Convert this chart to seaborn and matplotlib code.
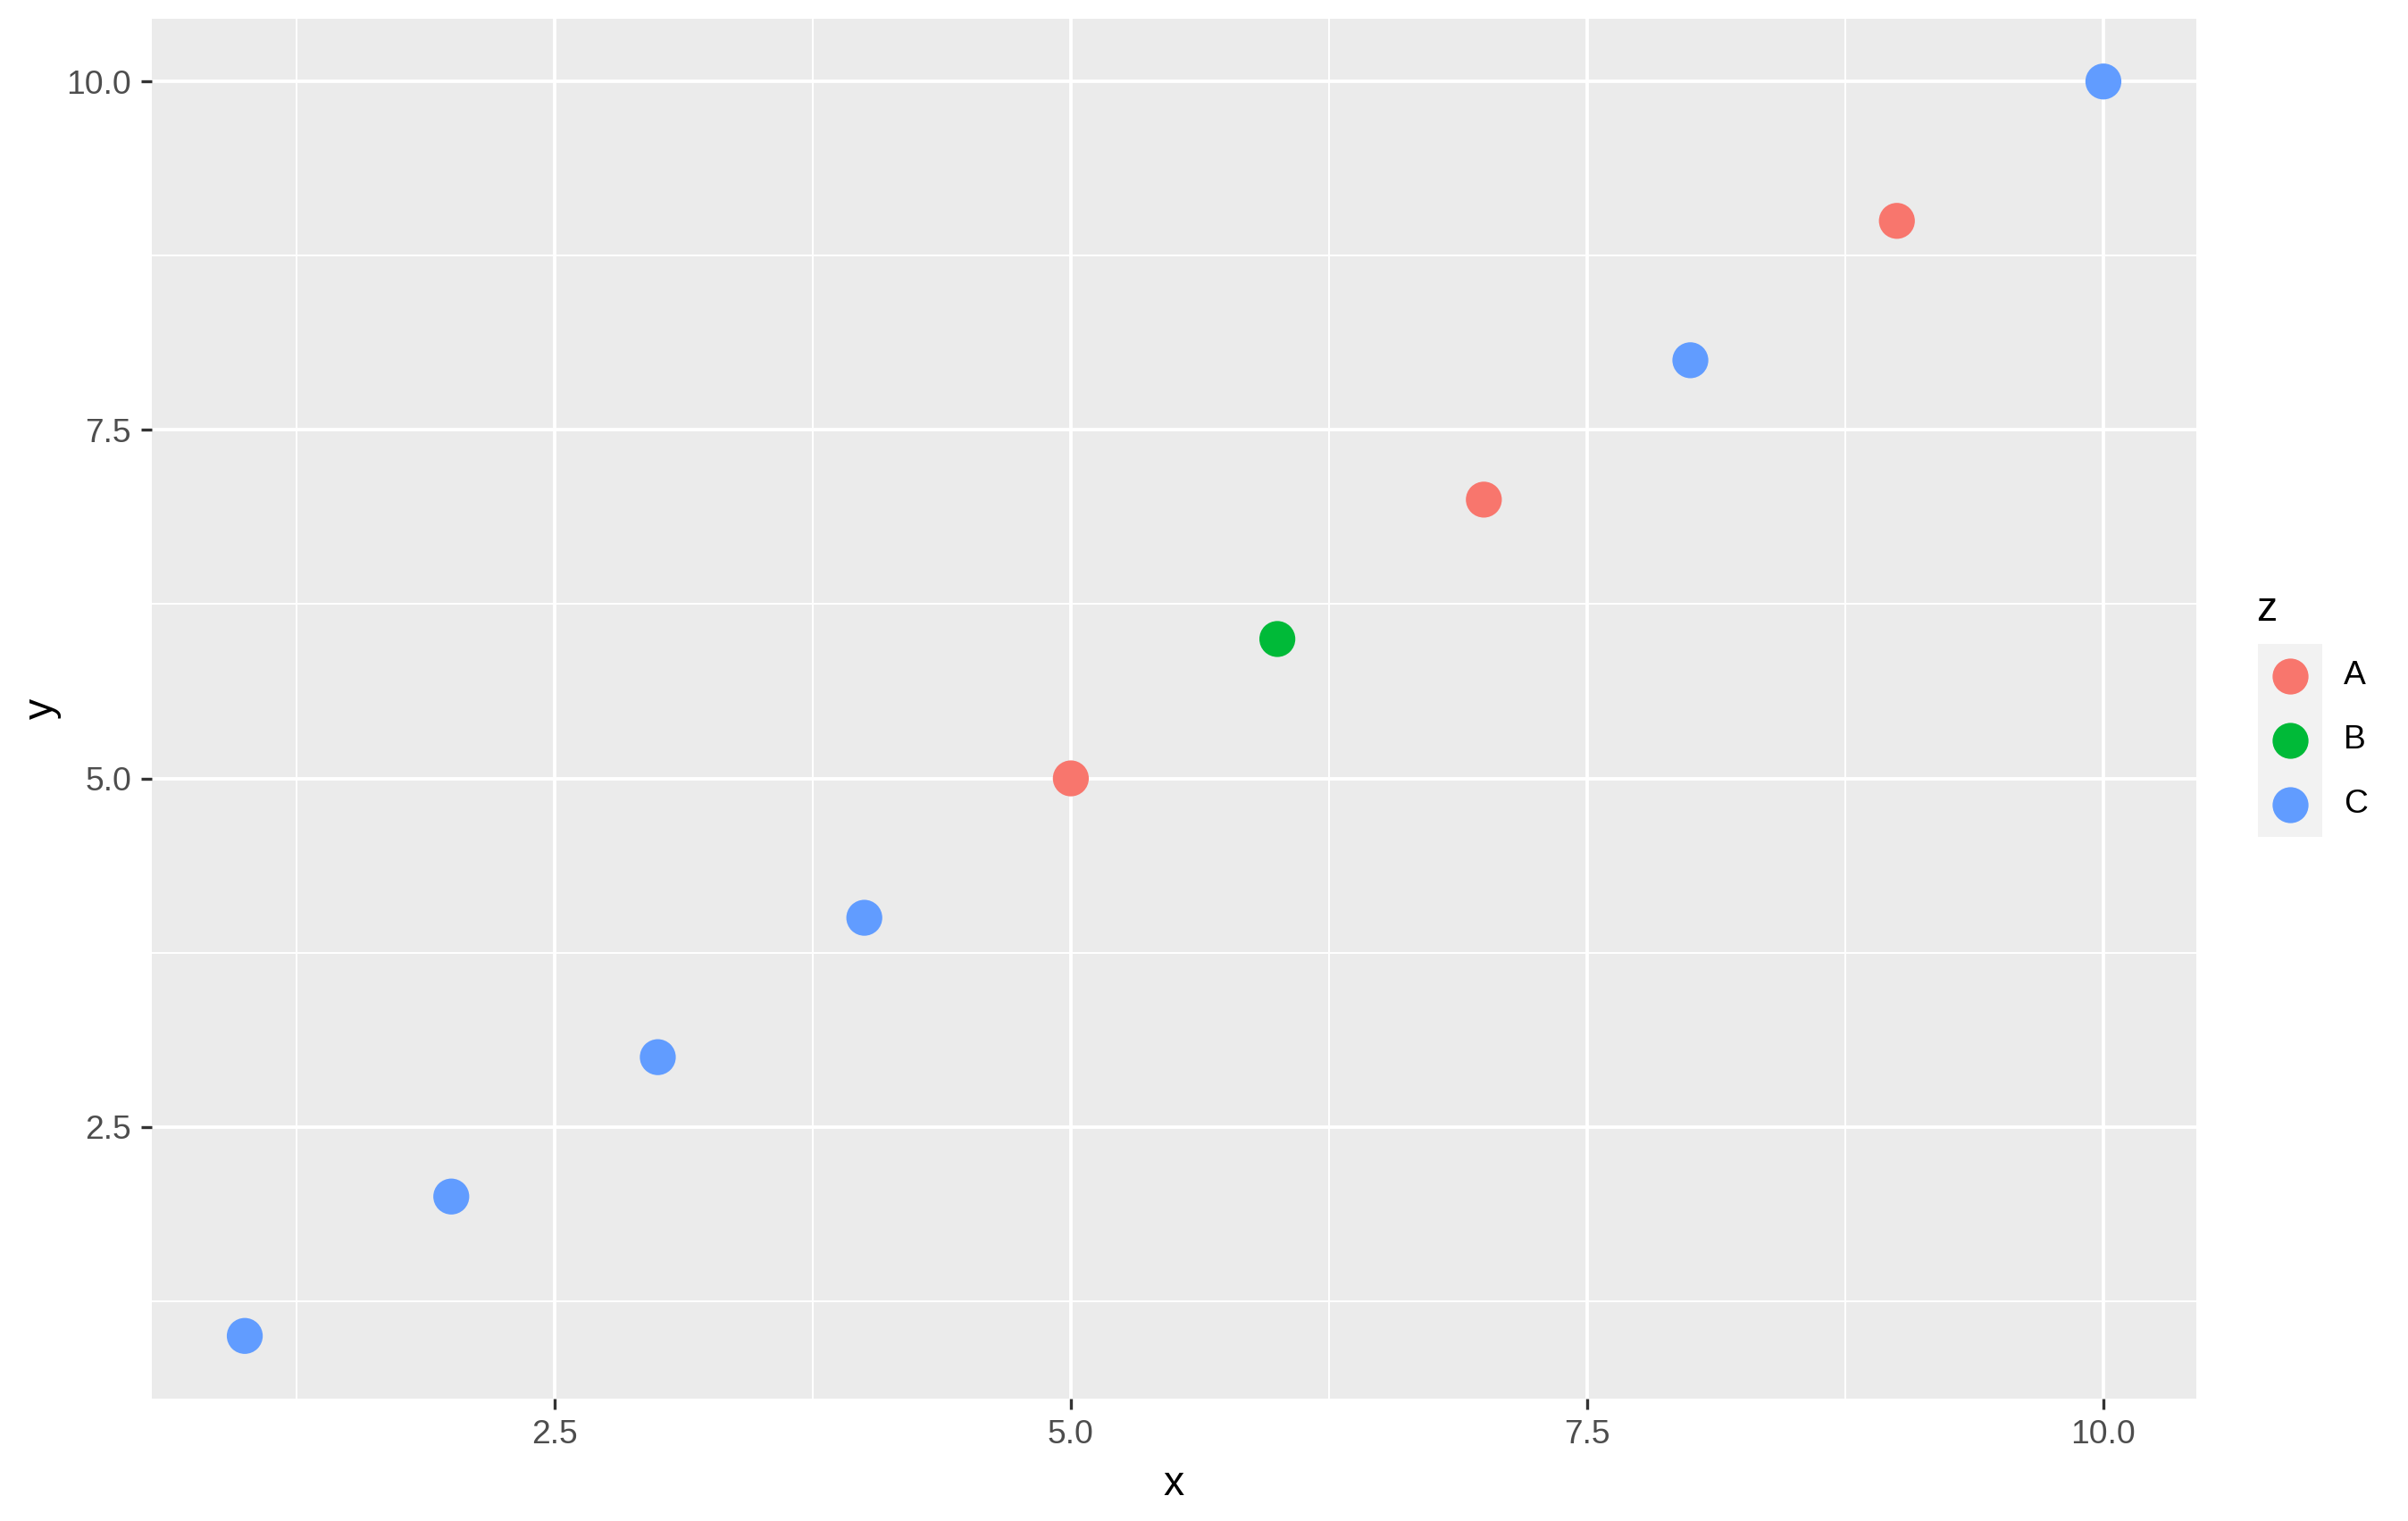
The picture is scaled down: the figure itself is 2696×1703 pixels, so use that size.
import pandas as pd
import seaborn as sns
import matplotlib.pyplot as plt
from matplotlib.ticker import MultipleLocator

# data
x_vals = [1, 2, 3, 4, 5, 6, 7, 8, 9, 10]
y_vals = [1, 2, 3, 4, 5, 6, 7, 8, 9, 10]
z_vals = ["C", "C", "C", "C", "A", "B", "A", "C", "A", "C"]
groups = ["A", "B", "C"]
colors = ["#F8766D", "#00BA38", "#619CFF"]

df = pd.DataFrame({"x": x_vals, "y": y_vals, "z": z_vals})
palette = dict(zip(groups, colors))

sns.set_theme(style="darkgrid")
plt.rcParams["font.family"] = ["Liberation Sans", "DejaVu Sans"]

W, H = 2696, 1703
fig = plt.figure(figsize=(W / 200, H / 200), dpi=200)
ax = fig.add_axes([170 / W, 1 - 1566 / H, (2459 - 170) / W, (1566 - 21) / H])
ax.set_facecolor("#EBEBEB")

sns.scatterplot(data=df, x="x", y="y", hue="z", palette=palette,
                hue_order=groups, s=210, linewidth=0, legend=False, ax=ax)

ax.set_xlim(0.55, 10.45)
ax.set_ylim(0.55, 10.45)
for axis in (ax.xaxis, ax.yaxis):
    axis.set_major_locator(MultipleLocator(2.5))
    axis.set_minor_locator(MultipleLocator(1.25))
ax.set_xticks([2.5, 5.0, 7.5, 10.0])
ax.set_yticks([2.5, 5.0, 7.5, 10.0])
ax.set_xticklabels(["2.5", "5.0", "7.5", "10.0"])
ax.set_yticklabels(["2.5", "5.0", "7.5", "10.0"])
ax.grid(which="major", color="white", linewidth=1.4)
ax.grid(which="minor", color="white", linewidth=0.7)
ax.set_axisbelow(True)
for sp in ax.spines.values():
    sp.set_visible(False)
ax.tick_params(which="major", length=4.2, width=1.2, color="#333333",
               labelsize=13.4, labelcolor="#4D4D4D", pad=4,
               bottom=True, left=True)
ax.tick_params(which="minor", length=0, bottom=False, left=False)
ax.set_xlabel("x", fontsize=16.7, color="black", labelpad=6)
ax.set_ylabel("y", fontsize=16.7, color="black", labelpad=2)

# legend, drawn ggplot-style
lax = fig.add_axes([2528 / W, 1 - 937 / H, 72 / W, 216 / H])
lax.set_facecolor("#F2F2F2")
lax.set_xlim(0, 1)
lax.set_ylim(3, 0)
lax.set_xticks([])
lax.set_yticks([])
for sp in lax.spines.values():
    sp.set_visible(False)
lax.grid(False)
for i, (g, c) in enumerate(zip(groups, colors)):
    lax.scatter(0.5, i + 0.5, s=210, color=c, linewidth=0)
    lax.text(1.33, i + 0.5, g, fontsize=13.4, va="center", ha="left",
             color="black")
fig.text(2526 / W, 1 - 683 / H, "z", fontsize=16.7, va="center", ha="left",
         color="black")

plt.savefig("out.png", dpi=200, facecolor="white")
